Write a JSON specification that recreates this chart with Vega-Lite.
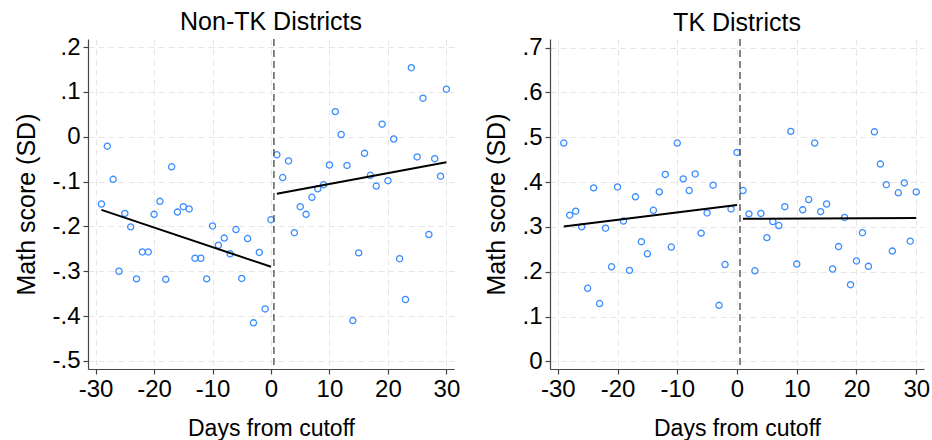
{
  "$schema": "https://vega.github.io/schema/vega-lite/v6.json",
  "background": "white",
  "padding": {"left": 14, "top": 10, "right": 5, "bottom": 0},
  "spacing": 24,
  "config": {
    "font": "Liberation Sans",
    "view": {"stroke": null},
    "axis": {
      "labelFont": "Liberation Sans", "titleFont": "Liberation Sans",
      "labelFontSize": 24, "titleFontWeight": "normal",
      "labelColor": "#000", "titleColor": "#000",
      "domainColor": "#444", "domainWidth": 1.2,
      "tickColor": "#444", "tickSize": 5, "tickWidth": 1.2,
      "gridColor": "#e6e6e6", "gridDash": [6, 4], "gridWidth": 1
    },
    "axisX": {"titleFontSize": 23},
    "axisY": {"titleFontSize": 25},
    "title": {"font": "Liberation Sans", "fontSize": 25, "fontWeight": "normal", "color": "#000"}
  },
  "datasets": {
    "pts": [
      {"panel": "L", "x": -29, "y": -0.150}, {"panel": "L", "x": -28, "y": -0.021}, {"panel": "L", "x": -27, "y": -0.095},
      {"panel": "L", "x": -26, "y": -0.300}, {"panel": "L", "x": -25, "y": -0.171}, {"panel": "L", "x": -24, "y": -0.201},
      {"panel": "L", "x": -23, "y": -0.317}, {"panel": "L", "x": -22, "y": -0.257}, {"panel": "L", "x": -21, "y": -0.257},
      {"panel": "L", "x": -20, "y": -0.173}, {"panel": "L", "x": -19, "y": -0.144}, {"panel": "L", "x": -18, "y": -0.318},
      {"panel": "L", "x": -17, "y": -0.067}, {"panel": "L", "x": -16, "y": -0.168}, {"panel": "L", "x": -15, "y": -0.156},
      {"panel": "L", "x": -14, "y": -0.161}, {"panel": "L", "x": -13, "y": -0.271}, {"panel": "L", "x": -12, "y": -0.271},
      {"panel": "L", "x": -11, "y": -0.317}, {"panel": "L", "x": -10, "y": -0.199}, {"panel": "L", "x": -9, "y": -0.242},
      {"panel": "L", "x": -8, "y": -0.226}, {"panel": "L", "x": -7, "y": -0.261}, {"panel": "L", "x": -6, "y": -0.207},
      {"panel": "L", "x": -5, "y": -0.316}, {"panel": "L", "x": -4, "y": -0.227}, {"panel": "L", "x": -3, "y": -0.415},
      {"panel": "L", "x": -2, "y": -0.258}, {"panel": "L", "x": -1, "y": -0.384}, {"panel": "L", "x": 0, "y": -0.185},
      {"panel": "L", "x": 1, "y": -0.040}, {"panel": "L", "x": 2, "y": -0.091}, {"panel": "L", "x": 3, "y": -0.054},
      {"panel": "L", "x": 4, "y": -0.214}, {"panel": "L", "x": 5, "y": -0.156}, {"panel": "L", "x": 6, "y": -0.173},
      {"panel": "L", "x": 7, "y": -0.135}, {"panel": "L", "x": 8, "y": -0.116}, {"panel": "L", "x": 9, "y": -0.107},
      {"panel": "L", "x": 10, "y": -0.063}, {"panel": "L", "x": 11, "y": 0.056}, {"panel": "L", "x": 12, "y": 0.005},
      {"panel": "L", "x": 13, "y": -0.064}, {"panel": "L", "x": 14, "y": -0.410}, {"panel": "L", "x": 15, "y": -0.259},
      {"panel": "L", "x": 16, "y": -0.037}, {"panel": "L", "x": 17, "y": -0.086}, {"panel": "L", "x": 18, "y": -0.110},
      {"panel": "L", "x": 19, "y": 0.028}, {"panel": "L", "x": 20, "y": -0.098}, {"panel": "L", "x": 21, "y": -0.005},
      {"panel": "L", "x": 22, "y": -0.272}, {"panel": "L", "x": 23, "y": -0.363}, {"panel": "L", "x": 24, "y": 0.154},
      {"panel": "L", "x": 25, "y": -0.045}, {"panel": "L", "x": 26, "y": 0.086}, {"panel": "L", "x": 27, "y": -0.218},
      {"panel": "L", "x": 28, "y": -0.049}, {"panel": "L", "x": 29, "y": -0.088}, {"panel": "L", "x": 30, "y": 0.106},
      {"panel": "R", "x": -29, "y": 0.487}, {"panel": "R", "x": -28, "y": 0.326}, {"panel": "R", "x": -27, "y": 0.335},
      {"panel": "R", "x": -26, "y": 0.300}, {"panel": "R", "x": -25, "y": 0.163}, {"panel": "R", "x": -24, "y": 0.387},
      {"panel": "R", "x": -23, "y": 0.129}, {"panel": "R", "x": -22, "y": 0.297}, {"panel": "R", "x": -21, "y": 0.211},
      {"panel": "R", "x": -20, "y": 0.389}, {"panel": "R", "x": -19, "y": 0.313}, {"panel": "R", "x": -18, "y": 0.203},
      {"panel": "R", "x": -17, "y": 0.367}, {"panel": "R", "x": -16, "y": 0.267}, {"panel": "R", "x": -15, "y": 0.240},
      {"panel": "R", "x": -14, "y": 0.337}, {"panel": "R", "x": -13, "y": 0.378}, {"panel": "R", "x": -12, "y": 0.417},
      {"panel": "R", "x": -11, "y": 0.255}, {"panel": "R", "x": -10, "y": 0.487}, {"panel": "R", "x": -9, "y": 0.407},
      {"panel": "R", "x": -8, "y": 0.381}, {"panel": "R", "x": -7, "y": 0.418}, {"panel": "R", "x": -6, "y": 0.286},
      {"panel": "R", "x": -5, "y": 0.331}, {"panel": "R", "x": -4, "y": 0.393}, {"panel": "R", "x": -3, "y": 0.125},
      {"panel": "R", "x": -2, "y": 0.216}, {"panel": "R", "x": -1, "y": 0.340}, {"panel": "R", "x": 0, "y": 0.466},
      {"panel": "R", "x": 1, "y": 0.381}, {"panel": "R", "x": 2, "y": 0.329}, {"panel": "R", "x": 3, "y": 0.202},
      {"panel": "R", "x": 4, "y": 0.330}, {"panel": "R", "x": 5, "y": 0.276}, {"panel": "R", "x": 6, "y": 0.312},
      {"panel": "R", "x": 7, "y": 0.303}, {"panel": "R", "x": 8, "y": 0.345}, {"panel": "R", "x": 9, "y": 0.513},
      {"panel": "R", "x": 10, "y": 0.217}, {"panel": "R", "x": 11, "y": 0.338}, {"panel": "R", "x": 12, "y": 0.361},
      {"panel": "R", "x": 13, "y": 0.487}, {"panel": "R", "x": 14, "y": 0.334}, {"panel": "R", "x": 15, "y": 0.351},
      {"panel": "R", "x": 16, "y": 0.206}, {"panel": "R", "x": 17, "y": 0.256}, {"panel": "R", "x": 18, "y": 0.321},
      {"panel": "R", "x": 19, "y": 0.171}, {"panel": "R", "x": 20, "y": 0.224}, {"panel": "R", "x": 21, "y": 0.287},
      {"panel": "R", "x": 22, "y": 0.212}, {"panel": "R", "x": 23, "y": 0.512}, {"panel": "R", "x": 24, "y": 0.440},
      {"panel": "R", "x": 25, "y": 0.394}, {"panel": "R", "x": 26, "y": 0.246}, {"panel": "R", "x": 27, "y": 0.376},
      {"panel": "R", "x": 28, "y": 0.398}, {"panel": "R", "x": 29, "y": 0.268}, {"panel": "R", "x": 30, "y": 0.378}
    ],
    "fit": [
      {"panel": "L", "seg": "a", "x": -29, "y": -0.163}, {"panel": "L", "seg": "a", "x": 0, "y": -0.290},
      {"panel": "L", "seg": "b", "x": 1, "y": -0.127}, {"panel": "L", "seg": "b", "x": 30, "y": -0.057},
      {"panel": "R", "seg": "a", "x": -29, "y": 0.301}, {"panel": "R", "seg": "a", "x": 0, "y": 0.349},
      {"panel": "R", "seg": "b", "x": 1, "y": 0.318}, {"panel": "R", "seg": "b", "x": 30, "y": 0.320}
    ],
    "cut": [{"panel": "L", "x": 0.5}, {"panel": "R", "x": 0.5}]
  },
  "hconcat": [
    {
      "width": 366, "height": 330,
      "title": {"text": "Non-TK Districts", "offset": 0},
      "layer": [
        {
          "data": {"name": "pts"},
          "transform": [{"filter": "datum.panel == 'L'"}],
          "mark": {"type": "point", "shape": "circle", "filled": false, "color": "#3a8cff", "size": 38, "strokeWidth": 1.3, "opacity": 1},
          "encoding": {
            "x": {"field": "x", "type": "quantitative", "scale": {"domain": [-31.3, 31.3], "nice": false, "zero": false},
                  "axis": {"values": [-30, -20, -10, 0, 10, 20, 30], "title": "Days from cutoff", "titlePadding": 16, "labelPadding": 3, "labelExpr": "toString(datum.value)"}},
            "y": {"field": "y", "type": "quantitative", "scale": {"domain": [-0.518, 0.218], "nice": false, "zero": false},
                  "axis": {"values": [-0.5, -0.4, -0.3, -0.2, -0.1, 0, 0.1, 0.2], "title": "Math score (SD)", "titlePadding": 12, "labelPadding": 3,
                           "labelExpr": "replace(toString(round(datum.value*10)/10), '0.', '.')"}}
          }
        },
        {
          "data": {"name": "fit"},
          "transform": [{"filter": "datum.panel == 'L'"}],
          "mark": {"type": "line", "color": "#000", "strokeWidth": 2},
          "encoding": {"x": {"field": "x", "type": "quantitative"}, "y": {"field": "y", "type": "quantitative"}, "detail": {"field": "seg"}}
        },
        {
          "data": {"name": "cut"},
          "transform": [{"filter": "datum.panel == 'L'"}],
          "mark": {"type": "rule", "color": "#444", "strokeWidth": 1.3, "strokeDash": [7, 4]},
          "encoding": {"x": {"field": "x", "type": "quantitative"}}
        }
      ]
    },
    {
      "width": 374, "height": 330,
      "title": {"text": "TK Districts", "offset": 0},
      "layer": [
        {
          "data": {"name": "pts"},
          "transform": [{"filter": "datum.panel == 'R'"}],
          "mark": {"type": "point", "shape": "circle", "filled": false, "color": "#3a8cff", "size": 38, "strokeWidth": 1.3, "opacity": 1},
          "encoding": {
            "x": {"field": "x", "type": "quantitative", "scale": {"domain": [-31.3, 31.3], "nice": false, "zero": false},
                  "axis": {"values": [-30, -20, -10, 0, 10, 20, 30], "title": "Days from cutoff", "titlePadding": 16, "labelPadding": 3, "labelExpr": "toString(datum.value)"}},
            "y": {"field": "y", "type": "quantitative", "scale": {"domain": [-0.017, 0.719], "nice": false, "zero": false},
                  "axis": {"values": [0, 0.1, 0.2, 0.3, 0.4, 0.5, 0.6, 0.7], "title": "Math score (SD)", "titlePadding": 12, "labelPadding": 3,
                           "labelExpr": "replace(toString(round(datum.value*10)/10), '0.', '.')"}}
          }
        },
        {
          "data": {"name": "fit"},
          "transform": [{"filter": "datum.panel == 'R'"}],
          "mark": {"type": "line", "color": "#000", "strokeWidth": 2},
          "encoding": {"x": {"field": "x", "type": "quantitative"}, "y": {"field": "y", "type": "quantitative"}, "detail": {"field": "seg"}}
        },
        {
          "data": {"name": "cut"},
          "transform": [{"filter": "datum.panel == 'R'"}],
          "mark": {"type": "rule", "color": "#444", "strokeWidth": 1.3, "strokeDash": [7, 4]},
          "encoding": {"x": {"field": "x", "type": "quantitative"}}
        }
      ]
    }
  ]
}
